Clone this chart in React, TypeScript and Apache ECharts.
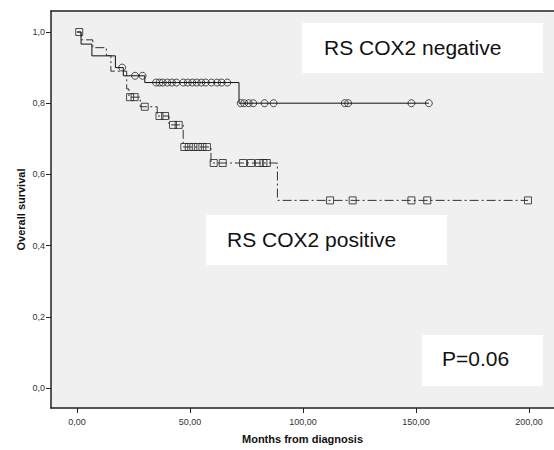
import React, { useEffect, useRef } from 'react';
import * as echarts from 'echarts';

// Tick labels
const xTicks = [0, 50, 100, 150, 200];
const yTicks = [0, 0.2, 0.4, 0.6, 0.8, 1.0];

// RS COX2 negative (solid line, circles)
const negTimes = [0, 1.8, 6.6, 17, 20.5, 30, 71.7, 155.7];
const negSurv = [1.0, 0.966, 0.933, 0.9, 0.877, 0.858, 0.8, 0.8];
const negCensored = [20, 25.7, 29, 35, 36.5, 38, 40, 42, 44, 47, 49, 51, 53, 55, 57, 59.5, 62, 64, 66.5, 72.5, 74, 76, 78, 83, 87, 118.5, 120, 148, 155.7];

// RS COX2 positive (dash-dot line, squares)
const posTimes = [0, 1.8, 7, 13, 15, 22, 23, 28, 35.5, 40.7, 47, 59.3, 88.7, 199.6];
const posSurv = [1.0, 0.978, 0.956, 0.934, 0.89, 0.84, 0.817, 0.79, 0.764, 0.739, 0.677, 0.632, 0.527, 0.527];
const posCensored = [1.0, 23.5, 25.5, 30, 36.5, 39, 42.5, 45, 47.5, 49.5, 51.5, 53.5, 55.5, 57.5, 60.5, 64.5, 73.5, 77, 80.5, 82.5, 84, 112, 122, 148, 155, 199.6];

const labels = { neg: 'RS COX2 negative', pos: 'RS COX2 positive', p: 'P=0.06' };

function survAt(times: number[], surv: number[], t: number) {
  let s = surv[0];
  for (let i = 0; i < times.length; i++) if (times[i] <= t) s = surv[i];
  return s;
}

const FONT = '"Liberation Sans", Arial, sans-serif';

export default function App() {
  const ref = useRef<HTMLDivElement>(null);
  useEffect(() => {
    if (!ref.current) return;
    const chart = echarts.init(ref.current, undefined, { renderer: 'svg' });
    const xMin = -11.5, xMax = 211.1;
    const option: any = {
      animation: false,
      backgroundColor: '#ffffff',
      grid: { left: 51, top: 11, right: 0, bottom: 42, show: true, backgroundColor: '#f0f0f0', borderWidth: 0 },
      xAxis: [
        {
          type: 'value', min: xMin, max: xMax, position: 'bottom',
          name: 'Months from diagnosis', nameLocation: 'middle', nameGap: 25, nameMoveOverlap: false,
          nameTextStyle: { fontFamily: FONT, fontWeight: 'bold', fontSize: 11, color: '#111' },
          axisLine: { show: true, onZero: false, lineStyle: { color: '#222', width: 1.5 } },
          axisTick: { show: true, length: 5, customValues: xTicks, lineStyle: { color: '#222' } },
          axisLabel: { customValues: xTicks, margin: 9, fontFamily: FONT, fontSize: 9, color: '#333',
            formatter: (v: number) => v.toFixed(2).replace('.', ',') },
          splitLine: { show: false },
        },
        {
          type: 'value', min: xMin, max: xMax, position: 'top',
          axisLine: { show: true, onZero: false, lineStyle: { color: '#222', width: 1.5 } },
          axisTick: { show: false }, axisLabel: { show: false }, splitLine: { show: false },
        },
      ],
      yAxis: {
        type: 'value', min: -0.0562, max: 1.059,
        name: 'Overall survival', nameLocation: 'middle', nameGap: 25, nameMoveOverlap: false,
        nameTextStyle: { fontFamily: FONT, fontWeight: 'bold', fontSize: 11, color: '#111' },
        axisLine: { show: true, onZero: false, lineStyle: { color: '#222', width: 1.5 } },
        axisTick: { show: true, length: 5, customValues: yTicks, lineStyle: { color: '#222' } },
        axisLabel: { customValues: yTicks, margin: 6, fontFamily: FONT, fontSize: 9, color: '#333',
          formatter: (v: number) => v.toFixed(1).replace('.', ',') },
        splitLine: { show: false },
      },
      series: [
        {
          type: 'line', step: 'end', symbol: 'none',
          data: negTimes.map((t, i) => [t, negSurv[i]]),
          lineStyle: { color: '#111', width: 1 },
        },
        {
          type: 'line', step: 'end', symbol: 'none',
          data: posTimes.map((t, i) => [t, posSurv[i]]),
          lineStyle: { color: '#333', width: 1, type: [9, 3, 2, 3] },
        },
        {
          type: 'scatter', symbol: 'circle', symbolSize: 7,
          data: negCensored.map((t) => [t, survAt(negTimes, negSurv, t)]),
          itemStyle: { color: 'rgba(0,0,0,0)', borderColor: '#222', borderWidth: 1 },
        },
        {
          type: 'scatter', symbol: 'rect', symbolSize: 7,
          data: posCensored.map((t) => [t, survAt(posTimes, posSurv, t)]),
          itemStyle: { color: 'rgba(0,0,0,0)', borderColor: '#222', borderWidth: 1 },
        },
      ],
      graphic: [
        { type: 'rect', shape: { x: 302, y: 23, width: 241, height: 50 }, style: { fill: '#ffffff' } },
        { type: 'text', x: 324, y: 47, style: { text: labels.neg, font: `21px ${FONT}`, fill: '#111', verticalAlign: 'middle' } },
        { type: 'rect', shape: { x: 206, y: 215, width: 241, height: 50 }, style: { fill: '#ffffff' } },
        { type: 'text', x: 227, y: 239, style: { text: labels.pos, font: `21px ${FONT}`, fill: '#111', verticalAlign: 'middle' } },
        { type: 'rect', shape: { x: 422, y: 335, width: 121, height: 51 }, style: { fill: '#ffffff' } },
        { type: 'text', x: 442, y: 358, style: { text: labels.p, font: `21px ${FONT}`, fill: '#111', verticalAlign: 'middle' } },
      ],
    };
    chart.setOption(option);
    return () => chart.dispose();
  }, []);
  return <div ref={ref} style={{ position: 'fixed', left: 0, top: 0, width: 554, height: 450 }} />;
}
